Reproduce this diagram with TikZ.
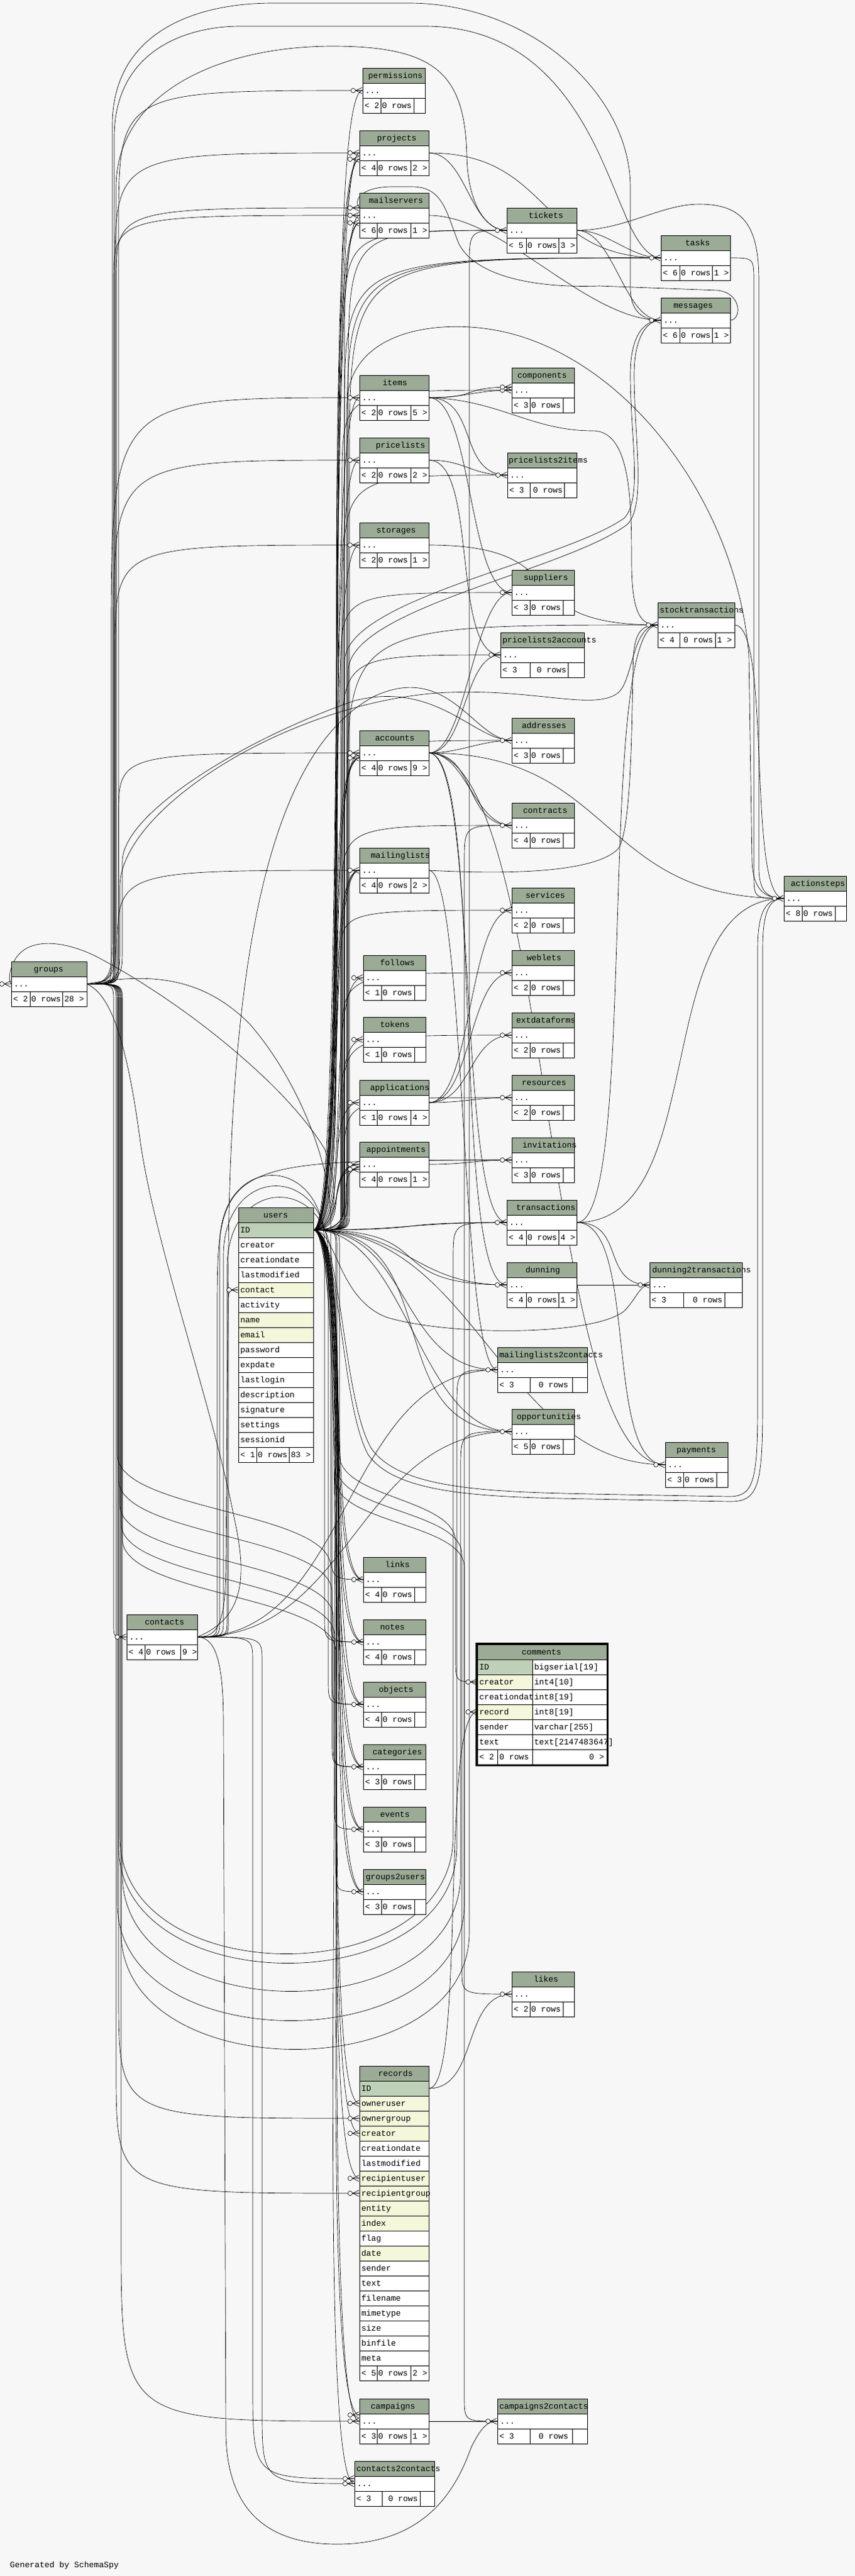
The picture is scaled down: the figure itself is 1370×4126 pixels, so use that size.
\documentclass[tikz,border=0pt]{standalone}
\usepackage{fontspec}
\newfontfamily\mono{Liberation Mono}
\usetikzlibrary{calc}
\pgfdeclarelayer{bbg}
\pgfdeclarelayer{bg}
\pgfsetlayers{bbg,bg,main}
\definecolor{bgc}{HTML}{F7F7F7}
\definecolor{hdrc}{HTML}{9BAB96}
\definecolor{keyc}{HTML}{BED1B8}
\definecolor{idxc}{HTML}{F4F7DA}
\tikzset{
  fk/.style={line width=0.65pt, black},
  bl/.style={line width=0.8pt, black},
  tb/.style={draw, line width=0.8pt, fill=white, inner sep=0pt, outer sep=0pt, minimum height=72pt, anchor=north west},
  txt/.style={anchor=base west, inner sep=0pt, outer sep=0pt, font=\mono\fontsize{13.2}{14}\selectfont},
  crowo/.pic={
    \draw[line width=0.65pt, fill=bgc] (-15,0) circle (3.6);
    \draw[line width=0.65pt] (-11,0) -- (-1,-4.8) (-11,0) -- (-1,0) (-11,0) -- (-1,4.8);
  }
}
\newcommand\ctbl[9]{%
  \node[tb, minimum width=#4pt] (#1) at (#2,#3) {};
  \fill[hdrc] (#2,#3) rectangle ++(#4,24);
  \draw[bl] (#2,#3) rectangle ++(#4,72) (#2,#3+24) -- ++(#4,0) (#2,#3+48) -- ++(#4,0);
  \node[txt] at (#2+#5,#3+16.5) {#6};
  \node[txt] at (#2+4,#3+40.5) {...};
  \def\tX{#2}\def\tY{#3}\def\tSA{#7}\def\tSB{#8}%
  \ftparts#9\relax}
\def\ftparts#1|#2|#3\relax{%
  \draw[bl] (\tX+\tSA,\tY+48) -- ++(0,24) (\tX+\tSB,\tY+48) -- ++(0,24);
  \node[txt] at (\tX+3,\tY+64.5) {#1};
  \node[txt] at (\tX+\tSA+#2,\tY+64.5) {0 rows};
  \node[txt] at (\tX+\tSB+3,\tY+64.5) {#3};}
\newcommand\brow[6]{%
  \node[draw, line width=0.8pt, fill=#4, minimum width=#3pt, minimum height=24pt, inner sep=0pt, outer sep=0pt, anchor=north west] (#5) at (#1,#2) {};
  \node[txt] at (#1+3,#2+16.5) {#6};}
% S-curve
\newcommand\ES[3]{\draw[fk] (#1) .. controls +(#3,0) and +(-#3,0) .. (#2);}
% lane route: src, dst, lane x, r1, r2
\newcommand\EL[5]{\draw[fk] let \p1=(#1), \p2=(#2), \n1={sign(\y2-\y1)} in
  (\p1) .. controls (#3pt,\y1) and (#3pt,\y1) .. (#3pt,\y1+\n1*#4pt)
  -- (#3pt,\y2-\n1*#5pt) .. controls (#3pt,\y2) and (#3pt,\y2) .. (\p2);}
% downward lane change: src, dst, lane L, crossing y M, lane R, half height s
\newcommand\ED[6]{\draw[fk] let \p1=(#1), \p2=(#2) in
  (\p1) .. controls (#3pt,\y1) and (#3pt,\y1) .. (#3pt,\y1-30pt)
  -- (#3pt,-#4pt+#6pt) .. controls (#3pt,-#4pt) and (#5pt,-#4pt) .. (#5pt,-#4pt-#6pt)
  -- (#5pt,\y2+40pt) .. controls (#5pt,\y2) and (#5pt,\y2) .. (\p2);}
% swing under and back up: src, dst, lane L, bottom B, lane R
\newcommand\EU[5]{\draw[fk] let \p1=(#1), \p2=(#2) in
  (\p1) .. controls (#3pt,\y1) and (#3pt,\y1) .. (#3pt,\y1-30pt)
  -- (#3pt,-#4pt+250pt) .. controls (#3pt,-#4pt) and (#5pt,-#4pt) .. (#5pt,-#4pt+250pt)
  -- (#5pt,\y2-60pt) .. controls (#5pt,\y2) and (#5pt,\y2) .. (\p2);}
% arch over the top and back down: src, dst, lane L, top T, lane R
\newcommand\EA[5]{\draw[fk] let \p1=(#1), \p2=(#2) in
  (\p1) .. controls (#3pt,\y1) and (#3pt,\y1) .. (#3pt,\y1+30pt)
  -- (#3pt,-#4pt-150pt) .. controls (#3pt,-#4pt) and (#5pt,-#4pt) .. (#5pt,-#4pt-150pt)
  -- (#5pt,\y2+40pt) .. controls (#5pt,\y2) and (#5pt,\y2) .. (\p2);}
\newcommand\cf[1]{\path (#1) pic {crowo};}
\begin{document}
\begin{tikzpicture}[x=1pt,y=-1pt]
\useasboundingbox (0,0) rectangle (1370,4126);
\begin{pgfonlayer}{bbg}
\fill[bgc] (0,0) rectangle (1370,4126);
\end{pgfonlayer}
% ---------------- tables ----------------
\ctbl{permissions}{581}{109}{100}{9}{permissions}{29}{82}{< 2|2|}
\ctbl{projects}{576}{209}{111}{28}{projects}{28}{82}{< 4|2|2 >}
\ctbl{mailservers}{576}{309}{111}{15}{mailservers}{28}{82}{< 6|2|1 >}
\ctbl{tickets}{812}{333}{112}{35}{tickets}{31}{83}{< 5|2|3 >}
\ctbl{tasks}{1059}{377}{111}{39}{tasks}{30}{82}{< 6|2|1 >}
\ctbl{messages}{1059}{477}{111}{20}{messages}{30}{82}{< 6|2|1 >}
\ctbl{components}{820}{589}{100}{9}{components}{29}{82}{< 3|2|}
\ctbl{items}{576}{601}{111}{37}{items}{28}{82}{< 2|2|5 >}
\ctbl{pricelists}{576}{701}{111}{26}{pricelists}{28}{82}{< 2|2|2 >}
\ctbl{pricelists2items}{813}{725}{111}{2}{pricelists2items}{36}{91}{< 3|5|}
\ctbl{storages}{576}{837}{111}{27}{storages}{28}{82}{< 2|2|1 >}
\ctbl{suppliers}{820}{913}{100}{19}{suppliers}{29}{82}{< 3|2|}
\ctbl{stocktransactions}{1054}{965}{123}{3}{stocktransactions}{35}{92}{< 4|6|1 >}
\ctbl{pricelists2accounts}{802}{1013}{134}{3}{pricelists2accounts}{47}{108}{< 3|11|}
\ctbl{addresses}{820}{1150}{100}{16}{addresses}{29}{82}{< 3|2|}
\ctbl{accounts}{576}{1170}{111}{25}{accounts}{28}{82}{< 4|2|9 >}
\ctbl{contracts}{820}{1286}{100}{18}{contracts}{29}{82}{< 4|2|}
\ctbl{mailinglists}{576}{1358}{111}{18}{mailinglists}{28}{82}{< 4|2|2 >}
\ctbl{actionsteps}{1256}{1403}{100}{11}{actionsteps}{29}{82}{< 8|2|}
\ctbl{services}{820}{1422}{100}{22}{services}{29}{82}{< 2|2|}
\ctbl{groups}{18}{1540}{121}{36}{groups}{30}{82}{< 2|2|28 >}
\ctbl{follows}{582}{1530}{100}{27}{follows}{29}{82}{< 1|2|}
\ctbl{weblets}{820}{1522}{100}{24}{weblets}{29}{82}{< 2|2|}
\ctbl{extdataforms}{820}{1622}{100}{7}{extdataforms}{29}{82}{< 2|2|}
\ctbl{tokens}{582}{1629}{100}{27}{tokens}{29}{82}{< 1|2|}
\ctbl{resources}{820}{1722}{100}{16}{resources}{29}{82}{< 2|2|}
\ctbl{applications}{576}{1730}{111}{17}{applications}{28}{82}{< 1|2|4 >}
\ctbl{appointments}{576}{1829}{111}{11}{appointments}{28}{82}{< 4|2|1 >}
\ctbl{invitations}{820}{1822}{100}{17}{invitations}{29}{82}{< 3|2|}
\ctbl{transactions}{812}{1922}{112}{15}{transactions}{31}{83}{< 4|2|4 >}
\ctbl{dunning}{812}{2022}{112}{30}{dunning}{31}{83}{< 4|2|1 >}
\ctbl{dunning2transactions}{1041}{2022}{148}{4}{dunning2transactions}{54}{120}{< 3|15|}
\ctbl{mailinglists2contacts}{797}{2158}{144}{3}{mailinglists2contacts}{52}{120}{< 3|14|}
\ctbl{opportunities}{820}{2257}{100}{8}{opportunities}{29}{82}{< 5|2|}
\ctbl{payments}{1066}{2310}{100}{18}{payments}{29}{82}{< 3|2|}
\ctbl{links}{582}{2494}{100}{35}{links}{29}{82}{< 4|2|}
\ctbl{contacts}{203}{2586}{113}{29}{contacts}{29}{86}{< 4|2|9 >}
\ctbl{notes}{582}{2594}{100}{27}{notes}{29}{82}{< 4|2|}
\ctbl{objects}{582}{2694}{100}{25}{objects}{29}{82}{< 4|2|}
\ctbl{categories}{582}{2794}{100}{15}{categories}{29}{82}{< 3|2|}
\ctbl{events}{582}{2894}{100}{27}{events}{29}{82}{< 3|2|}
\ctbl{groups2users}{582}{2994}{100}{4}{groups2users}{29}{82}{< 3|2|}
\ctbl{likes}{820}{3158}{100}{35}{likes}{29}{82}{< 2|2|}
\ctbl{campaigns}{576}{3842}{111}{18}{campaigns}{28}{82}{< 3|2|1 >}
\ctbl{campaigns2contacts}{797}{3842}{144}{3}{campaigns2contacts}{52}{120}{< 3|14|}
\ctbl{contacts2contacts}{568}{3942}{128}{3}{contacts2contacts}{44}{105}{< 3|10|}
% users
\node[draw, line width=0.8pt, fill=hdrc, minimum width=120pt, minimum height=24pt, inner sep=0pt, anchor=north west] (users) at (382,1934) {};
\node[txt] at (422,1950.5) {users};
\brow{382}{1958}{120}{keyc}{users-ID}{ID}
\brow{382}{1982}{120}{white}{users-creator}{creator}
\brow{382}{2006}{120}{white}{users-creationdate}{creationdate}
\brow{382}{2030}{120}{white}{users-lastmodified}{lastmodified}
\brow{382}{2054}{120}{idxc}{users-contact}{contact}
\brow{382}{2078}{120}{white}{users-activity}{activity}
\brow{382}{2102}{120}{idxc}{users-name}{name}
\brow{382}{2126}{120}{idxc}{users-email}{email}
\brow{382}{2150}{120}{white}{users-password}{password}
\brow{382}{2174}{120}{white}{users-expdate}{expdate}
\brow{382}{2198}{120}{white}{users-lastlogin}{lastlogin}
\brow{382}{2222}{120}{white}{users-description}{description}
\brow{382}{2246}{120}{white}{users-signature}{signature}
\brow{382}{2270}{120}{white}{users-settings}{settings}
\brow{382}{2294}{120}{white}{users-sessionid}{sessionid}
\draw[bl, fill=white] (382,2318) rectangle ++(120,24) (411,2318) -- ++(0,24) (463,2318) -- ++(0,24);
\node[txt] at (385,2334.5) {< 1};
\node[txt] at (413,2334.5) {0 rows};
\node[txt] at (466,2334.5) {83 >};
% records
\node[draw, line width=0.8pt, fill=hdrc, minimum width=111pt, minimum height=24pt, inner sep=0pt, anchor=north west] (records) at (576,3309) {};
\node[txt] at (606,3325.5) {records};
\brow{576}{3333}{111}{keyc}{records-ID}{ID}
\brow{576}{3357}{111}{idxc}{records-owneruser}{owneruser}
\brow{576}{3381}{111}{idxc}{records-ownergroup}{ownergroup}
\brow{576}{3405}{111}{idxc}{records-creator}{creator}
\brow{576}{3429}{111}{white}{records-creationdate}{creationdate}
\brow{576}{3453}{111}{white}{records-lastmodified}{lastmodified}
\brow{576}{3477}{111}{idxc}{records-recipientuser}{recipientuser}
\brow{576}{3501}{111}{idxc}{records-recipientgroup}{recipientgroup}
\brow{576}{3525}{111}{idxc}{records-entity}{entity}
\brow{576}{3549}{111}{idxc}{records-index}{index}
\brow{576}{3573}{111}{white}{records-flag}{flag}
\brow{576}{3597}{111}{idxc}{records-date}{date}
\brow{576}{3621}{111}{white}{records-sender}{sender}
\brow{576}{3645}{111}{white}{records-text}{text}
\brow{576}{3669}{111}{white}{records-filename}{filename}
\brow{576}{3693}{111}{white}{records-mimetype}{mimetype}
\brow{576}{3717}{111}{white}{records-size}{size}
\brow{576}{3741}{111}{white}{records-binfile}{binfile}
\brow{576}{3765}{111}{white}{records-meta}{meta}
\draw[bl, fill=white] (576,3789) rectangle ++(111,24) (604,3789) -- ++(0,24) (658,3789) -- ++(0,24);
\node[txt] at (579,3805.5) {< 5};
\node[txt] at (606,3805.5) {0 rows};
\node[txt] at (661,3805.5) {2 >};
% comments
\node[draw, line width=0.8pt, fill=hdrc, minimum width=207pt, minimum height=24pt, inner sep=0pt, anchor=north west] (comments) at (765,2634) {};
\node[txt] at (836,2650.5) {comments};
\brow{765}{2658}{88}{keyc}{comments-ID}{ID}
\brow{853}{2658}{119}{white}{comments-IDt}{bigserial[19]}
\brow{765}{2682}{88}{idxc}{comments-creator}{creator}
\brow{853}{2682}{119}{white}{comments-creatort}{int4[10]}
\brow{765}{2706}{88}{white}{comments-creationdate}{creationdate}
\brow{853}{2706}{119}{white}{comments-creationdatet}{int8[19]}
\brow{765}{2730}{88}{idxc}{comments-record}{record}
\brow{853}{2730}{119}{white}{comments-recordt}{int8[19]}
\brow{765}{2754}{88}{white}{comments-sender}{sender}
\brow{853}{2754}{119}{white}{comments-sendert}{varchar[255]}
\brow{765}{2778}{88}{white}{comments-text}{text}
\brow{853}{2778}{119}{white}{comments-textt}{text[2147483647]}
\draw[bl, fill=white] (765,2802) rectangle ++(207,24) (797,2802) -- ++(0,24) (853,2802) -- ++(0,24);
\node[txt] at (768,2818.5) {< 2};
\node[txt] at (800,2818.5) {0 rows};
\node[txt, anchor=base east] at (968,2818.5) {0 >};
\draw[line width=2.6pt] (763.3,2632.3) rectangle (973.7,2827.7);
\node[txt] (gen) at (16,4112) {Generated by SchemaSpy};
% ---------------- connectors ----------------
\begin{pgfonlayer}{bg}
% users -> first column
\ES{users-ID.east}{permissions.west}{75}
\ES{users-ID.east}{projects.west}{55}
\ES{users-ID.east}{$(projects.west)+(0,10)$}{65}
\ES{users-ID.east}{$(projects.west)+(0,10)$}{72}
\ES{users-ID.east}{mailservers.west}{60}
\ES{users-ID.east}{$(mailservers.west)+(0,12)$}{68}
\ES{users-ID.east}{$(mailservers.west)+(0,12)$}{76}
\ES{users-ID.east}{items.west}{60}
\ES{users-ID.east}{pricelists.west}{62}
\ES{users-ID.east}{storages.west}{64}
\ES{users-ID.east}{accounts.west}{55}
\ES{users-ID.east}{$(accounts.west)+(0,8)$}{62}
\ES{users-ID.east}{$(accounts.west)+(0,8)$}{70}
\ES{users-ID.east}{mailinglists.west}{55}
\ES{users-ID.east}{mailinglists.west}{62}
\ES{users-ID.east}{mailinglists.west}{68}
\ES{users-ID.east}{follows.west}{65}
\ES{users-ID.east}{tokens.west}{65}
\ES{users-ID.east}{applications.west}{60}
\ES{users-ID.east}{appointments.west}{50}
\ES{users-ID.east}{appointments.west}{58}
\ES{users-ID.east}{$(appointments.west)+(0,8)$}{65}
\ES{users-ID.east}{links.west}{60}
\ES{users-ID.east}{links.west}{70}
\ES{users-ID.east}{notes.west}{62}
\ES{users-ID.east}{notes.west}{74}
\ES{users-ID.east}{objects.west}{64}
\ES{users-ID.east}{objects.west}{78}
\ES{users-ID.east}{categories.west}{66}
\ES{users-ID.east}{categories.west}{78}
\ES{users-ID.east}{events.west}{68}
\ES{users-ID.east}{events.west}{80}
\ES{users-ID.east}{groups2users.west}{70}
\ES{users-ID.east}{groups2users.west}{82}
\ES{users-ID.east}{records-owneruser.west}{72}
\ES{users-ID.east}{records-creator.west}{76}
\ES{users-ID.east}{records-recipientuser.west}{80}
\ES{users-ID.east}{campaigns.west}{74}
\ES{users-ID.east}{$(campaigns.west)+(0,-10)$}{84}
\ES{users-ID.east}{contacts2contacts.west}{78}
% users -> second column
\EL{users-ID.east}{tickets.west}{552}{30}{180}
\EL{users-ID.east}{tickets.west}{558}{30}{250}
\EL{users-ID.east}{components.west}{548}{30}{150}
\EL{users-ID.east}{pricelists2items.west}{550}{30}{200}
\EL{users-ID.east}{suppliers.west}{546}{30}{130}
\EL{users-ID.east}{pricelists2accounts.west}{548}{30}{160}
\EL{users-ID.east}{addresses.west}{552}{30}{150}
\EL{users-ID.east}{contracts.west}{548}{30}{120}
\EL{users-ID.east}{services.west}{546}{30}{80}
\EL{users-ID.east}{weblets.west}{548}{30}{120}
\EL{users-ID.east}{extdataforms.west}{550}{30}{120}
\EL{users-ID.east}{resources.west}{552}{30}{100}
\EL{users-ID.east}{invitations.west}{554}{30}{60}
\ES{users-ID.east}{transactions.west}{150}
\ES{users-ID.east}{transactions.west}{210}
\ES{users-ID.east}{dunning.west}{150}
\ES{users-ID.east}{dunning.west}{210}
\ES{users-ID.east}{mailinglists2contacts.west}{160}
\ES{users-ID.east}{opportunities.west}{150}
\ES{users-ID.east}{opportunities.west}{220}
\ES{users-ID.east}{payments.west}{260}
\ED{users-ID.east}{likes.west}{540}{2420}{740}{70}
\ED{users-ID.east}{comments-creator.west}{544}{2400}{730}{70}
\ED{users-ID.east}{campaigns2contacts.west}{538}{2440}{744}{70}
% users -> third column and beyond
\EL{users-ID.east}{tasks.west}{552}{30}{260}
\EL{users-ID.east}{tasks.west}{556}{30}{300}
\EL{users-ID.east}{tasks.west}{560}{30}{340}
\draw[fk] (users-ID.east) .. controls (552,1970) and (552,1950) .. (552,1900) -- (552,1060) .. controls (552,960) and (900,900) .. (1000,830) .. controls (1030,800) and (1010,700) .. (1010,600) .. controls (1010,540) and (1030,513) .. (messages.west);
\draw[fk] (users-ID.east) .. controls (558,1970) and (558,1950) .. (558,1900) -- (558,1075) .. controls (558,975) and (905,915) .. (1005,840) .. controls (1036,810) and (1016,700) .. (1016,600) .. controls (1016,545) and (1034,513) .. (messages.west);
\EL{users-ID.east}{stocktransactions.west}{556}{30}{300}
\draw[fk] (users-ID.east) .. controls (540,1970) and (540,2080) .. (620,2110) .. controls (720,2140) and (950,2140) .. (1000,2100) .. controls (1020,2080) and (1025,2058) .. (dunning2transactions.west);
\draw[fk] (users-ID.east) .. controls (545,1970) and (545,2250) .. (590,2330) .. controls (640,2400) and (800,2398) .. (1000,2402) -- (1170,2405) .. controls (1215,2405) and (1222,2380) .. (1222,2250) -- (1222,1520) .. controls (1222,1455) and (1235,1439) .. (actionsteps.west);
\draw[fk] (users-ID.east) .. controls (548,1970) and (548,2240) .. (595,2320) .. controls (645,2390) and (800,2390) .. (1000,2394) -- (1168,2397) .. controls (1208,2397) and (1214,2372) .. (1214,2250) -- (1214,1520) .. controls (1214,1455) and (1230,1439) .. (actionsteps.west);
\draw[fk] (users-ID.east) .. controls (556,1970) and (556,1940) .. (556,1880) -- (556,650) .. controls (556,530) and (700,510) .. (800,530) .. controls (1000,570) and (1180,800) .. (1200,1050) -- (1205,1380) .. controls (1207,1430) and (1230,1439) .. (actionsteps.west);
\draw[fk] (users-ID.east) .. controls (540,1970) and (545,1900) .. (520,1840) .. controls (460,1740) and (300,1610) .. (160,1535) .. controls (110,1508) and (40,1495) .. (20,1545) .. controls (14,1560) and (14,1570) .. (groups.west);
% groups
\EL{groups.east}{permissions.west}{190}{30}{220}
\EL{groups.east}{projects.west}{184}{30}{200}
\EL{groups.east}{mailservers.west}{182}{30}{110}
\EL{groups.east}{$(mailservers.west)+(0,-12)$}{186}{30}{120}
\EL{groups.east}{items.west}{178}{30}{400}
\EL{groups.east}{pricelists.west}{182}{30}{280}
\EL{groups.east}{storages.west}{184}{30}{180}
\EL{groups.east}{accounts.west}{190}{30}{100}
\EL{groups.east}{mailinglists.west}{188}{30}{130}
\EL{groups.east}{contacts.west}{182}{30}{20}
\draw[fk] (groups.east) .. controls (196,1576) and (196,1560) .. (196,1520) -- (196,1380) .. controls (196,1300) and (400,1180) .. (569,1122) .. controls (700,1090) and (760,1186) .. (addresses.west);
\draw[fk] (groups.east) .. controls (192,1576) and (192,1560) .. (192,1520) -- (192,1420) .. controls (192,1300) and (450,1130) .. (700,1110) .. controls (850,1100) and (950,1140) .. (990,1110) .. controls (1015,1090) and (1012,1001) .. (stocktransactions.west);
\draw[fk] (groups.east) .. controls (250,1555) and (330,1570) .. (400,1640) .. controls (470,1720) and (528,1850) .. (530,1950) -- (530,2490) .. controls (530,2530) and (540,2530) .. (links.west);
\ED{groups.east}{notes.west}{188}{2420}{530}{90}
\ED{groups.east}{objects.west}{190}{2460}{532}{90}
\ED{groups.east}{categories.west}{192}{2500}{534}{90}
\ED{groups.east}{events.west}{194}{2530}{536}{90}
\ED{groups.east}{groups2users.west}{196}{2555}{538}{90}
\EL{groups.east}{records-ownergroup.west}{190}{30}{200}
\EL{groups.east}{records-recipientgroup.west}{186}{30}{200}
\EL{groups.east}{campaigns.west}{194}{30}{300}
\EU{groups.east}{transactions.west}{192}{3192}{726}
\EU{groups.east}{mailinglists2contacts.west}{190}{3207}{732}
\EU{groups.east}{opportunities.west}{196}{3252}{738}
\EU{groups.east}{contracts.west}{188}{3299}{744}
\EU{groups.east}{tickets.west}{194}{3345}{752}
\draw[fk] (groups.east) .. controls (176,1576) and (180,1560) .. (180,1500) -- (180,200) .. controls (180,60) and (300,5) .. (437,5) -- (655,5) .. controls (850,5) and (1010,150) .. (1010,300) -- (1010,460) .. controls (1010,500) and (1030,513) .. (messages.west);
\draw[fk] (groups.east) .. controls (178,1576) and (183,1560) .. (183,1500) -- (183,220) .. controls (183,80) and (300,42) .. (384,42) -- (681,42) .. controls (900,42) and (960,250) .. (1000,340) .. controls (1020,390) and (1040,413) .. (tasks.west);
\draw[fk] (groups.east) .. controls (180,1576) and (186,1560) .. (186,1500) -- (186,300) .. controls (186,150) and (350,74) .. (533,74) .. controls (700,74) and (745,120) .. (748,250) .. controls (750,330) and (780,369) .. (tickets.west);
\draw[fk] (groups.east) .. controls (170,1590) and (200,1640) .. (225,1830) .. controls (250,2000) and (340,2250) .. (375,2430) .. controls (395,2520) and (395,2590) .. (contacts.east);
% contacts
\EL{contacts.east}{users-contact.west}{366}{25}{25}
\draw[fk] (contacts.east) .. controls (350,2622) and (362,2600) .. (362,2500) -- (366,2000) .. controls (372,1500) and (440,1200) .. (600,1115) .. controls (720,1060) and (760,1186) .. (addresses.west);
\EL{contacts.east}{invitations.west}{348}{30}{250}
\ES{contacts.east}{mailinglists2contacts.west}{250}
\ES{contacts.east}{opportunities.west}{250}
\EA{contacts.east}{notes.west}{352}{1845}{520}
\EA{contacts.east}{objects.west}{358}{1862}{526}
\EA{contacts.east}{categories.west}{364}{1880}{532}
\EL{contacts.east}{contacts2contacts.west}{420}{40}{120}
\EL{contacts.east}{$(contacts2contacts.west)+(0,-8)$}{405}{40}{150}
\draw[fk] (contacts.east) .. controls (345,2622) and (358,2660) .. (358,2760) -- (362,3900) .. controls (365,4040) and (450,4075) .. (540,4075) .. controls (680,4075) and (730,3990) .. (755,3920) .. controls (770,3890) and (780,3878) .. (campaigns2contacts.west);
% other parents
\ES{projects.east}{tickets.west}{60}
\ES{projects.east}{tasks.west}{200}
\ES{mailservers.east}{messages.west}{120}
\ES{tickets.east}{tasks.west}{50}
\ES{tickets.east}{messages.west}{60}
\draw[fk] (tickets.east) .. controls (1000,369) and (1060,327) .. (1120,327) .. controls (1190,327) and (1216,360) .. (1216,450) -- (1216,1390) .. controls (1216,1430) and (1232,1439) .. (actionsteps.west);
\EL{tasks.east}{actionsteps.west}{1208}{40}{40}
\draw[fk] (messages.east) .. controls (1188,513) and (1190,470) .. (1150,465) -- (960,458) .. controls (850,462) and (760,440) .. (735,390) .. controls (715,340) and (710,299) .. (660,299) -- (629,299) .. controls (580,299) and (565,320) .. ($(mailservers.west)+(0,-12)$);
\ES{items.east}{components.west}{60}
\ES{items.east}{$(components.west)+(0,-5)$}{85}
\ES{items.east}{pricelists2items.west}{80}
\ES{items.east}{suppliers.west}{70}
\draw[fk] (items.east) .. controls (800,640) and (850,690) .. (950,690) .. controls (1010,690) and (1012,800) .. (1012,900) .. controls (1012,990) and (1030,1001) .. (stocktransactions.west);
\ES{pricelists.east}{pricelists2items.west}{60}
\ES{pricelists.east}{pricelists2accounts.west}{80}
\ES{storages.east}{stocktransactions.west}{250}
\ES{accounts.east}{addresses.west}{50}
\ES{accounts.east}{contracts.west}{60}
\ES{accounts.east}{contracts.west}{78}
\ES{accounts.east}{pricelists2accounts.west}{60}
\ES{accounts.east}{suppliers.west}{60}
\ES{accounts.east}{actionsteps.west}{300}
\ES{accounts.east}{transactions.west}{80}
\ES{accounts.east}{dunning.west}{90}
\ES{accounts.east}{payments.west}{200}
\ES{mailinglists.east}{mailinglists2contacts.west}{60}
\draw[fk] (mailinglists.east) .. controls (800,1400) and (950,1400) .. (990,1360) .. controls (1015,1330) and (1012,1100) .. (1015,1050) .. controls (1018,1010) and (1030,1001) .. (stocktransactions.west);
\ES{applications.east}{services.west}{70}
\ES{applications.east}{weblets.west}{70}
\ES{applications.east}{extdataforms.west}{70}
\ES{applications.east}{resources.west}{60}
\ES{appointments.east}{invitations.west}{60}
\ES{transactions.east}{dunning2transactions.west}{80}
\ES{transactions.east}{payments.west}{100}
\ES{transactions.east}{actionsteps.west}{220}
\ES{transactions.east}{stocktransactions.west}{100}
\draw[fk] (dunning.east) -- (dunning2transactions.west);
\ES{stocktransactions.east}{actionsteps.west}{60}
\ES{records-ID.east}{likes.west}{80}
\ES{records-ID.east}{comments-record.west}{60}
\draw[fk] (campaigns.east) -- (campaigns2contacts.west);
\end{pgfonlayer}
% ---------------- crow's feet ----------------
\cf{permissions.west}
\cf{projects.west}\cf{$(projects.west)+(0,10)$}
\cf{mailservers.west}\cf{$(mailservers.west)+(0,12)$}\cf{$(mailservers.west)+(0,-12)$}
\cf{tickets.west}\cf{tasks.west}\cf{messages.west}
\cf{components.west}\cf{$(components.west)+(0,-5)$}
\cf{items.west}\cf{pricelists.west}\cf{pricelists2items.west}\cf{storages.west}
\cf{suppliers.west}\cf{stocktransactions.west}\cf{pricelists2accounts.west}
\cf{addresses.west}\cf{accounts.west}\cf{$(accounts.west)+(0,8)$}\cf{contracts.west}
\cf{mailinglists.west}\cf{actionsteps.west}\cf{services.west}\cf{groups.west}
\cf{follows.west}\cf{weblets.west}\cf{extdataforms.west}\cf{tokens.west}
\cf{resources.west}\cf{applications.west}\cf{appointments.west}\cf{$(appointments.west)+(0,8)$}
\cf{invitations.west}\cf{transactions.west}\cf{dunning.west}\cf{dunning2transactions.west}
\cf{mailinglists2contacts.west}\cf{opportunities.west}\cf{payments.west}
\cf{links.west}\cf{contacts.west}\cf{notes.west}\cf{objects.west}\cf{categories.west}
\cf{events.west}\cf{groups2users.west}\cf{likes.west}
\cf{campaigns.west}\cf{$(campaigns.west)+(0,-10)$}
\cf{campaigns2contacts.west}\cf{contacts2contacts.west}\cf{$(contacts2contacts.west)+(0,-8)$}
\cf{users-contact.west}\cf{comments-creator.west}\cf{comments-record.west}
\cf{records-owneruser.west}\cf{records-ownergroup.west}\cf{records-creator.west}
\cf{records-recipientuser.west}\cf{records-recipientgroup.west}
\end{tikzpicture}
\end{document}
